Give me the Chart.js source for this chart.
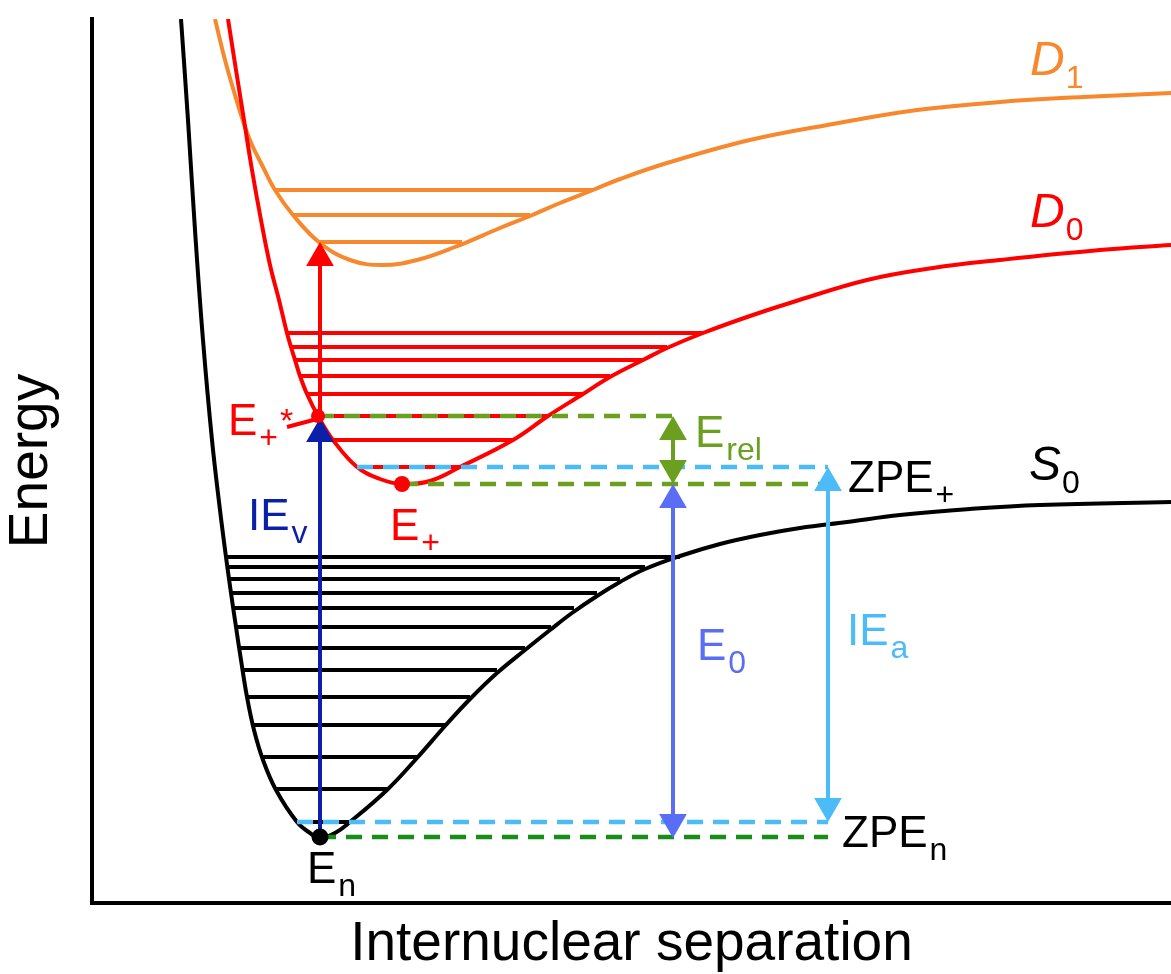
<!DOCTYPE html>
<html><head><meta charset="utf-8">
<script src="https://cdn.jsdelivr.net/npm/chart.js@4"></script>
<style>html,body{margin:0;padding:0;background:#fff;}canvas{display:block;}</style>
</head><body>
<canvas id="c" width="1171" height="974"></canvas>
<script>
// ---- Potential energy curves (internuclear separation x, energy E) ----
const s0X = [89,96,103,111,120,128,134,139,144,149,155,162,171,184,205,218,228,243,258,295,325,353,378,405,433,458,480,505,528,553,588,628,668,708,755,808,878,948,1079];
const s0E = [884,783,673,563,463,393,346,310,276,243,206,173,143,113,81,70,65,70,81,113,145,177,204,230,253,273,290,307,321,334,347,359,368,375,381,388,394,398,401];
const d0X = [136,144,152,160,169,178,187,195,199,203,208,215,226,241,265,288,310,338,368,421,456,491,518,551,575,611,658,701,775,841,908,1008,1079];
const d0E = [884,833,783,733,683,638,603,570,556,543,527,509,487,463,436,424,419,422,436,463,487,509,526,543,555,570,587,601,623,635,643,653,658];
const d1X = [123,133,143,153,160,170,183,201,228,258,291,325,363,408,438,468,501,528,575,658,741,825,908,991,1079];
const d1E = [884,843,808,776,758,738,713,688,660,643,638,643,656,675,687,700,713,724,740,763,779,793,801,806,810];

// ---- Vibrational levels ----
const s0LevelE    = [346,336,324,310,295,276,255,233,206,178,146,114,81];
const s0LevelFrom = [134,136,138,139,141,144,147,151,155,161,170,183,205];
const s0LevelTo   = [588,553,528,505,482,459,433,405,378,353,325,295,258];
const d0LevelE    = [570,556,543,527,509,487,463,436];
const d0LevelFrom = [195,199,203,208,215,226,241,265];
const d0LevelTo   = [611,575,551,518,491,456,421,368];
const d1LevelE    = [713,688,661];
const d1LevelFrom = [183,200,227];
const d1LevelTo   = [501,438,370];

// ---- Dashed guide lines: ZPE+, E+, E+*, ZPEn, En ----
const guideE    = [436,419,487,81,66];
const guideFrom = [265,310,226,205,228];
const guideTo   = [736,736,588,736,736];

// ---- Arrows: IEv, excitation, Erel, E0, IEa ----
const arrowX    = [228,228,581,581,736];
const arrowLow  = [66,487,419,65,81];
const arrowHigh = [485,661,487,419,436];

// ---- Points: En, E+, E+* ----
const dotX = [228,310,226];
const dotE = [66,419,487];

// ---- Leader line for E+* ----
const leaderX = [195,225];
const leaderE = [476,484];

// ---- Labels ----
const labelMain = ['D','D','S','ZPE','ZPE','E','IE','E','IE','E','E','E'];
const labelSub  = ['1','0','0','+','n','0','a','rel','v','+','+','n'];
const labelX    = [938,938,937,756,750,605,755,603,156,136,298,215];
const labelE    = [828,676,423,411,56,243,258,456,373,468,363,20];

// ---- styles ----
const C = {black:'#000000', red:'#ff0000', orange:'#f7882d', navy:'#0c1fa8', blue:'#5a6ef5', sky:'#4bbcf7', olive:'#6a9f1f', green:'#1a8c1a'};
const guideColor = [C.sky, C.olive, C.olive, C.sky, C.green];
const arrowColor = [C.navy, C.red, C.olive, C.blue, C.sky];
const arrowHeadLow  = [false,false,true,true,true];
const arrowHeadHigh = [true,true,true,true,true];
const dotColor = [C.black, C.red, C.red];
const dotR = [8.5,8,7];
const labelColor = [C.orange,C.red,C.black,C.black,C.black,C.blue,C.sky,C.olive,C.navy,C.red,C.red,C.black];
const labelItalic = [true,true,true,false,false,false,false,false,false,false,false,false];
const FONT = '"Liberation Sans", Arial, sans-serif';
const HEAD = 16;

const datasets = [];
const pts = (xs, es) => xs.map((x,i)=>({x, y: es[i]}));
function line(data, color, width, order, extra){
  datasets.push(Object.assign({data, showLine:true, borderColor:color, borderWidth:width, pointRadius:0, fill:false, order, tension:0}, extra||{}));
}
// curves
line(pts(s0X,s0E), C.black, 4, 5, {tension:0.4});
line(pts(d0X,d0E), C.red, 4, 5, {tension:0.4});
line(pts(d1X,d1E), C.orange, 4, 5, {tension:0.4});
// levels
s0LevelE.forEach((e,i)=>line([{x:s0LevelFrom[i],y:e},{x:s0LevelTo[i],y:e}], C.black, 4, 6));
d0LevelE.forEach((e,i)=>line([{x:d0LevelFrom[i],y:e},{x:d0LevelTo[i],y:e}], C.red, 4, 6));
d1LevelE.forEach((e,i)=>line([{x:d1LevelFrom[i],y:e},{x:d1LevelTo[i],y:e}], C.orange, 4, 6));
// guides
guideE.forEach((e,i)=>line([{x:guideFrom[i],y:e},{x:guideTo[i],y:e}], guideColor[i], 4.5, 3, {borderDash:[16,10]}));
// leader
line(pts(leaderX,leaderE), C.red, 4, 4);
// arrows
arrowX.forEach((x,i)=>{
  const lo = arrowLow[i] + (arrowHeadLow[i]?HEAD:0);
  const hi = arrowHigh[i] - (arrowHeadHigh[i]?HEAD:0);
  line([{x,y:lo},{x,y:hi}], arrowColor[i], 4, 2);
  if (arrowHeadHigh[i]) datasets.push({data:[{x,y:arrowHigh[i]-HEAD}], showLine:false, pointStyle:'triangle', pointRadius:HEAD, rotation:0, backgroundColor:arrowColor[i], borderWidth:0, order:1});
  if (arrowHeadLow[i]) datasets.push({data:[{x,y:arrowLow[i]+HEAD}], showLine:false, pointStyle:'triangle', pointRadius:HEAD, rotation:180, backgroundColor:arrowColor[i], borderWidth:0, order:1});
});
// dots
dotX.forEach((x,i)=>datasets.push({data:[{x,y:dotE[i]}], showLine:false, pointStyle:'circle', pointRadius:dotR[i], backgroundColor:dotColor[i], borderWidth:0, order:0}));

const labelPlugin = {
  id:'labels',
  afterDatasetsDraw(chart){
    const ctx = chart.ctx, xs = chart.scales.x, ys = chart.scales.y;
    labelMain.forEach((t,i)=>{
      let px = xs.getPixelForValue(labelX[i]);
      const py = ys.getPixelForValue(labelE[i]);
      ctx.save();
      ctx.fillStyle = labelColor[i];
      ctx.textAlign = 'left'; ctx.textBaseline = 'alphabetic';
      ctx.font = (labelItalic[i]?'italic ':'') + (labelItalic[i]?48:44) + 'px ' + FONT;
      ctx.fillText(t, px, py);
      px += ctx.measureText(t).width + (labelItalic[i]?1:2);
      ctx.font = '32px ' + FONT;
      ctx.fillText(labelSub[i], px, py + 13);
      px += ctx.measureText(labelSub[i]).width;
      if (i === 9) { ctx.font = '34px ' + FONT; ctx.fillText('*', px + 2, py - 3); }
      ctx.restore();
    });
  }
};

new Chart(document.getElementById('c'), {
  type:'scatter',
  data:{datasets},
  options:{
    responsive:false, devicePixelRatio:1, animation:false, events:[],
    layout:{autoPadding:false, padding:{top:19,left:0,right:0,bottom:0}},
    plugins:{legend:{display:false}, tooltip:{enabled:false}},
    scales:{
      x:{type:'linear', min:0, max:1079,
         ticks:{display:false}, grid:{display:false, drawTicks:false},
         border:{display:true, color:'#000', width:4},
         title:{display:true, text:'Internuclear separation', color:'#000',
                font:{size:55, family:FONT, lineHeight:1.0545}, padding:{top:13,bottom:0}}},
      y:{type:'linear', min:0, max:884,
         ticks:{display:false}, grid:{display:false, drawTicks:false},
         border:{display:true, color:'#000', width:4},
         title:{display:true, text:'Energy', color:'#000',
                font:{size:55, family:FONT, lineHeight:1.0545}, padding:{top:3,bottom:31}}}
    }
  },
  plugins:[labelPlugin]
});
</script>
</body></html>
